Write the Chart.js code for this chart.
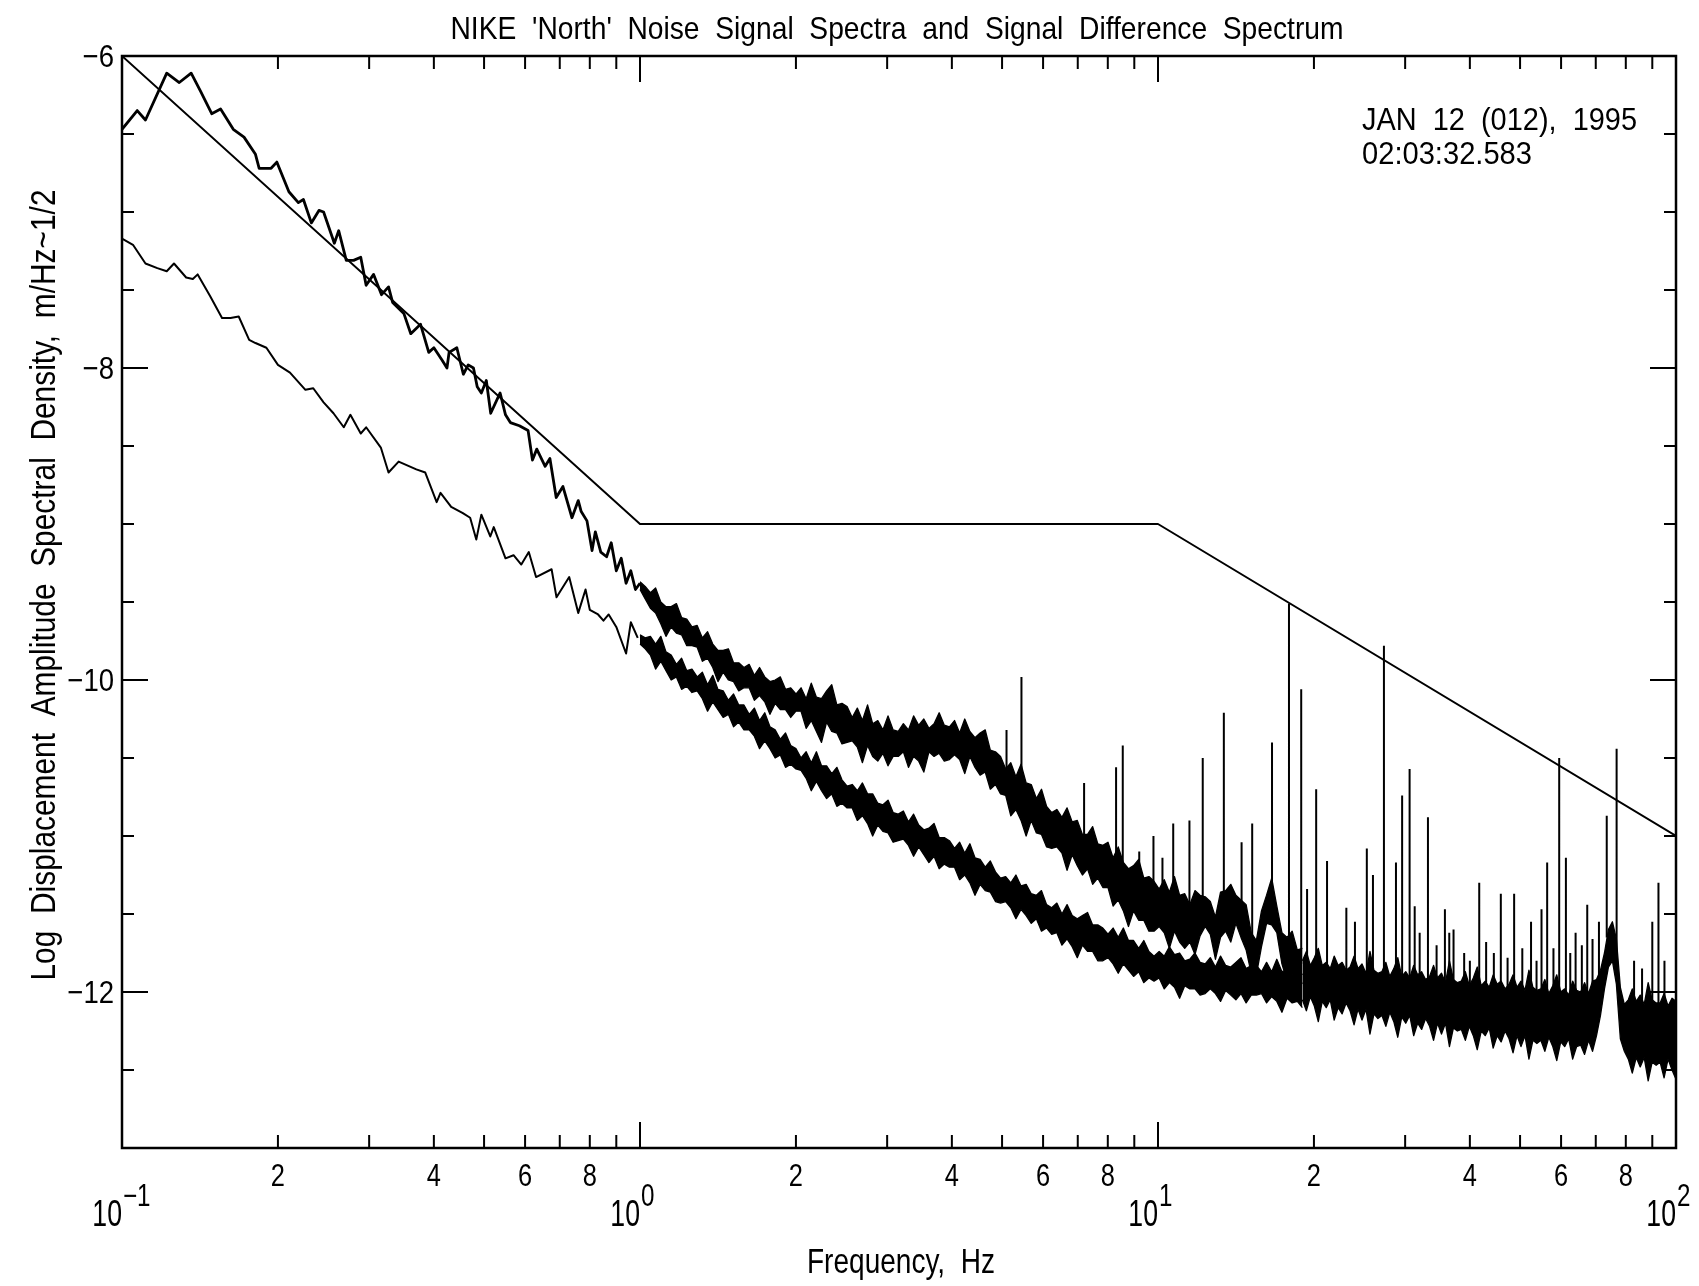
<!DOCTYPE html>
<html>
<head>
<meta charset="utf-8">
<title>NIKE 'North' Noise Signal Spectra</title>
<script src="https://cdn.jsdelivr.net/npm/chart.js@4.4.1/dist/chart.umd.min.js"></script>
<style>
  html, body { margin: 0; padding: 0; background: #fff; }
</style>
</head>
<body>
<canvas id="nike_north" width="1699" height="1286"></canvas>
<script>
var FONT = "'Liberation Sans', Arial, sans-serif";

var titleText = "NIKE  'North'  Noise  Signal  Spectra  and  Signal  Difference  Spectrum";
var xTitle = 'Frequency,  Hz';
var yTitle = 'Log  Displacement  Amplitude  Spectral  Density,  m/Hz~1/2';
var stampLines = ['JAN  12  (012),  1995', '02:03:32.583'];

// axis ticks
var xTicks = [0.1, 0.2, 0.3, 0.4, 0.5, 0.6, 0.7, 0.8, 0.9,
              1, 2, 3, 4, 5, 6, 7, 8, 9,
              10, 20, 30, 40, 50, 60, 70, 80, 90, 100];
var xTickText = ['', '2', '', '4', '', '6', '', '8', '',
                 '', '2', '', '4', '', '6', '', '8', '',
                 '', '2', '', '4', '', '6', '', '8', '', ''];
var decadeHz = [0.1, 1, 10, 100];
var decadeExp = ['\u22121', '0', '1', '2'];
var yMin = -13, yMax = -6;

// model (requirement) line
var modelHz = [0.1, 1, 10, 100];
var modelVal = [-6, -9, -9, -11];

// signal spectra, 0.1 - 1 Hz, read point by point
var upperHz = [0.100,0.107,0.111,0.122,0.129,0.136,0.142,0.149,0.155,0.164,
  0.172,0.181,0.184,0.194,0.199,0.210,0.219,0.224,0.232,0.240,
  0.245,0.257,0.262,0.271,0.280,0.289,0.296,0.306,0.317,0.327,
  0.333,0.350,0.361,0.377,0.391,0.400,0.415,0.424,0.428,0.443,
  0.456,0.466,0.477,0.485,0.494,0.505,0.515,0.537,0.550,0.562,
  0.585,0.608,0.620,0.632,0.656,0.670,0.689,0.710,0.739,0.760,
  0.770,0.790,0.808,0.820,0.840,0.862,0.880,0.900,0.920,0.940,
  0.960,0.980,1.00];
var upperVal = [-6.47,-6.35,-6.41,-6.11,-6.17,-6.11,-6.23,-6.37,-6.34,-6.47,
  -6.52,-6.63,-6.72,-6.72,-6.68,-6.87,-6.94,-6.92,-7.07,-6.99,
  -7.00,-7.20,-7.12,-7.31,-7.31,-7.29,-7.47,-7.40,-7.53,-7.48,
  -7.58,-7.65,-7.78,-7.72,-7.90,-7.87,-7.95,-8.00,-7.90,-7.87,
  -8.04,-7.98,-8.00,-8.12,-8.16,-8.08,-8.29,-8.16,-8.30,-8.35,
  -8.37,-8.40,-8.59,-8.52,-8.63,-8.58,-8.83,-8.76,-8.96,-8.85,
  -8.92,-8.98,-9.17,-9.05,-9.18,-9.21,-9.12,-9.30,-9.22,-9.38,
  -9.30,-9.42,-9.38];

// difference spectrum, 0.1 - 1 Hz
var lowerHz = [0.100,0.105,0.111,0.117,0.122,0.126,0.133,0.137,0.140,0.148,
  0.156,0.162,0.168,0.176,0.181,0.190,0.200,0.211,0.226,0.234,
  0.245,0.256,0.268,0.276,0.289,0.296,0.316,0.327,0.342,0.370,
  0.385,0.405,0.412,0.432,0.455,0.470,0.483,0.494,0.514,0.522,
  0.550,0.570,0.590,0.610,0.630,0.675,0.690,0.730,0.760,0.785,
  0.800,0.830,0.850,0.870,0.900,0.940,0.960,0.990];
var lowerVal = [-7.17,-7.21,-7.33,-7.36,-7.38,-7.33,-7.42,-7.43,-7.40,-7.54,
  -7.68,-7.68,-7.67,-7.82,-7.84,-7.87,-7.98,-8.03,-8.14,-8.13,
  -8.22,-8.29,-8.38,-8.30,-8.42,-8.38,-8.51,-8.67,-8.60,-8.65,
  -8.67,-8.86,-8.80,-8.89,-8.93,-8.96,-9.10,-8.94,-9.08,-9.02,
  -9.22,-9.20,-9.26,-9.18,-9.34,-9.29,-9.47,-9.34,-9.57,-9.42,
  -9.55,-9.58,-9.62,-9.58,-9.66,-9.83,-9.63,-9.73];

// 1 - 2 Hz: upper and lower edges of the traces as they thicken
var transRange = [1, 2];
var transUpperTop = [-9.37,-9.40,-9.44,-9.41,-9.50,-9.53,-9.53,-9.51,-9.60,-9.61,
  -9.66,-9.65,-9.73,-9.69,-9.77,-9.81,-9.81,-9.80,-9.89,-9.89,
  -9.92,-9.90,-9.97,-9.92,-9.98,-10.01,-10.00,-9.98,-10.06,-10.05,
  -10.09];
var transUpperBottom = [-9.42,-9.48,-9.54,-9.57,-9.64,-9.72,-9.66,-9.70,-9.71,-9.78,
  -9.78,-9.79,-9.88,-9.86,-9.92,-10.01,-9.95,-10.00,-10.01,-10.07,
  -10.05,-10.05,-10.13,-10.10,-10.14,-10.22,-10.15,-10.19,-10.19,-10.24,
  -10.20];
var transLowerTop = [-9.71,-9.73,-9.72,-9.77,-9.72,-9.82,-9.84,-9.90,-9.86,-9.94,
  -9.93,-9.98,-9.95,-10.03,-9.97,-10.06,-10.07,-10.13,-10.09,-10.16,
  -10.16,-10.22,-10.18,-10.26,-10.21,-10.30,-10.32,-10.38,-10.34,-10.42,
  -10.44];
var transLowerBottom = [-9.77,-9.80,-9.84,-9.93,-9.88,-9.94,-10.00,-9.98,-10.06,-10.04,
  -10.08,-10.07,-10.12,-10.20,-10.14,-10.19,-10.24,-10.22,-10.30,-10.27,
  -10.32,-10.32,-10.36,-10.44,-10.39,-10.44,-10.50,-10.48,-10.56,-10.54,
  -10.57];

// 2 - 19 Hz: upper and lower edges of each noisy trace, read at evenly log-spaced frequencies
var traceRange = [2, 19];
var upperTop = [-10.09,-10.05,-10.12,-10.02,-10.11,-10.12,-10.07,-10.03,-10.16,-10.15,
  -10.17,-10.24,-10.18,-10.26,-10.16,-10.28,-10.26,-10.32,-10.23,-10.32,
  -10.33,-10.28,-10.32,-10.23,-10.29,-10.25,-10.31,-10.28,-10.21,-10.29,
  -10.30,-10.26,-10.34,-10.25,-10.33,-10.37,-10.34,-10.32,-10.45,-10.46,
  -10.49,-10.57,-10.53,-10.62,-10.54,-10.66,-10.67,-10.76,-10.70,-10.81,
  -10.85,-10.83,-10.88,-10.82,-10.91,-10.90,-10.99,-10.99,-10.94,-11.05,
  -11.06,-11.04,-11.14,-11.07,-11.17,-11.21,-11.19,-11.15,-11.27,-11.26,
  -11.29,-11.34,-11.28,-11.36,-11.26,-11.38,-11.37,-11.44,-11.35,-11.38,
  -11.39,-11.42,-11.52,-11.36,-11.35,-11.31,-11.38,-11.41,-11.44,-11.62,
  -11.67,-11.48,-11.38,-11.27,-11.45,-11.62,-11.65,-11.61,-11.73,-11.72];
var upperBottom = [-10.20,-10.20,-10.31,-10.26,-10.33,-10.40,-10.27,-10.33,-10.34,-10.41,
  -10.40,-10.39,-10.43,-10.53,-10.42,-10.49,-10.52,-10.47,-10.55,-10.49,
  -10.49,-10.46,-10.56,-10.49,-10.52,-10.59,-10.46,-10.49,-10.47,-10.52,
  -10.51,-10.48,-10.51,-10.60,-10.49,-10.56,-10.61,-10.59,-10.70,-10.67,
  -10.73,-10.74,-10.87,-10.83,-10.90,-11.00,-10.90,-10.98,-10.99,-11.07,
  -11.08,-11.07,-11.11,-11.22,-11.12,-11.19,-11.25,-11.21,-11.31,-11.27,
  -11.33,-11.33,-11.45,-11.41,-11.48,-11.58,-11.48,-11.54,-11.54,-11.61,
  -11.61,-11.58,-11.62,-11.72,-11.61,-11.68,-11.72,-11.68,-11.76,-11.64,
  -11.58,-11.63,-11.79,-11.65,-11.61,-11.68,-11.56,-11.65,-11.73,-11.88,
  -11.89,-11.71,-11.56,-11.57,-11.62,-11.82,-11.93,-11.89,-11.99,-11.94];
var lowerTop = [-10.44,-10.50,-10.46,-10.53,-10.46,-10.55,-10.55,-10.60,-10.56,-10.64,
  -10.68,-10.67,-10.71,-10.66,-10.73,-10.73,-10.79,-10.80,-10.77,-10.85,
  -10.86,-10.84,-10.91,-10.86,-10.93,-10.96,-10.95,-10.92,-11.01,-11.01,
  -11.03,-11.08,-11.04,-11.11,-11.05,-11.14,-11.15,-11.20,-11.16,-11.23,
  -11.27,-11.26,-11.30,-11.25,-11.32,-11.31,-11.37,-11.38,-11.35,-11.44,
  -11.46,-11.43,-11.50,-11.44,-11.51,-11.53,-11.51,-11.49,-11.57,-11.57,
  -11.59,-11.63,-11.59,-11.65,-11.59,-11.67,-11.67,-11.72,-11.67,-11.74,
  -11.77,-11.74,-11.77,-11.71,-11.76,-11.75,-11.80,-11.79,-11.75,-11.81,
  -11.82,-11.78,-11.84,-11.77,-11.83,-11.84,-11.81,-11.78,-11.85,-11.83,
  -11.83,-11.87,-11.81,-11.87,-11.79,-11.87,-11.86,-11.90,-11.84,-11.89];
var lowerBottom = [-10.57,-10.58,-10.63,-10.71,-10.65,-10.71,-10.76,-10.73,-10.81,-10.79,
  -10.82,-10.82,-10.90,-10.87,-10.92,-11.00,-10.93,-10.97,-10.98,-11.04,
  -11.03,-11.02,-11.06,-11.13,-11.07,-11.12,-11.17,-11.13,-11.21,-11.18,
  -11.20,-11.20,-11.28,-11.25,-11.30,-11.38,-11.31,-11.35,-11.36,-11.42,
  -11.43,-11.42,-11.46,-11.53,-11.47,-11.51,-11.56,-11.53,-11.61,-11.59,
  -11.63,-11.62,-11.70,-11.66,-11.71,-11.78,-11.70,-11.74,-11.74,-11.80,
  -11.80,-11.78,-11.82,-11.88,-11.82,-11.86,-11.90,-11.87,-11.94,-11.91,
  -11.93,-11.91,-11.98,-11.94,-11.97,-12.04,-11.96,-11.98,-11.98,-12.02,
  -12.01,-11.98,-12.01,-12.06,-11.99,-12.02,-12.05,-12.01,-12.07,-12.02,
  -12.02,-12.01,-12.07,-12.03,-12.06,-12.13,-12.04,-12.07,-12.06,-12.10];

// 19 - 100 Hz: both traces merge into one band; its upper and lower edges
var floorRange = [19, 100];
var floorTop = [-11.80,-11.74,-11.83,-11.78,-11.72,-11.83,-11.81,-11.85,-11.77,-11.83,
  -11.81,-11.86,-11.84,-11.77,-11.85,-11.82,-11.88,-11.74,-11.86,-11.88,
  -11.87,-11.81,-11.90,-11.85,-11.78,-11.90,-11.87,-11.91,-11.83,-11.89,
  -11.87,-11.92,-11.90,-11.83,-11.91,-11.88,-11.94,-11.80,-11.92,-11.94,
  -11.93,-11.87,-11.96,-11.91,-11.84,-11.96,-11.93,-11.97,-11.89,-11.95,
  -11.93,-11.98,-11.95,-11.89,-11.97,-11.93,-11.99,-11.86,-11.97,-11.99,
  -11.98,-11.92,-12.01,-11.96,-11.89,-12.00,-11.98,-12.02,-11.93,-11.99,
  -12.00,-11.94,-12.01,-11.93,-11.92,-11.86,-11.75,-11.60,-11.55,-11.66,
  -11.97,-12.08,-12.05,-11.98,-12.06,-12.02,-12.08,-11.94,-12.05,-12.07,
  -12.07,-12.01,-12.09,-12.04,-12.06];
var floorBottom = [-12.05,-12.12,-12.03,-12.09,-12.19,-12.06,-12.10,-12.05,-12.18,-12.10,
  -12.14,-12.07,-12.12,-12.21,-12.11,-12.18,-12.11,-12.27,-12.14,-12.17,
  -12.15,-12.22,-12.13,-12.19,-12.29,-12.16,-12.20,-12.15,-12.28,-12.20,
  -12.24,-12.17,-12.22,-12.31,-12.20,-12.27,-12.20,-12.35,-12.23,-12.25,
  -12.24,-12.31,-12.22,-12.28,-12.37,-12.25,-12.28,-12.23,-12.36,-12.28,
  -12.32,-12.25,-12.30,-12.39,-12.28,-12.35,-12.28,-12.43,-12.31,-12.33,
  -12.31,-12.38,-12.29,-12.35,-12.44,-12.32,-12.35,-12.30,-12.43,-12.35,
  -12.34,-12.40,-12.31,-12.38,-12.28,-12.15,-11.98,-11.84,-11.80,-11.95,
  -12.30,-12.38,-12.43,-12.52,-12.42,-12.48,-12.42,-12.57,-12.45,-12.47,
  -12.45,-12.55,-12.43,-12.50,-12.56];

// narrow spectral lines
var spikeHz = [5.10, 5.45, 6.00, 7.20, 8.30, 8.55, 9.20, 9.80, 10.2, 10.7,
  11.5, 12.2, 13.4, 14.5, 15.2, 16.6, 17.9, 18.9, 19.4, 20.2,
  21.2, 23.1, 24.0, 25.3, 26.0, 27.3, 28.8, 29.6, 30.6, 31.3,
  32.0, 33.2, 34.5, 35.8, 36.5, 37.2, 39.0, 40.0, 41.7, 43.0,
  44.5, 45.9, 47.3, 48.7, 50.5, 52.5, 53.8, 55.0, 56.4, 58.0,
  59.5, 61.3, 62.5, 64.0, 65.8, 67.4, 69.0, 71.0, 73.5, 76.8,
  83.0, 86.0, 90.0, 92.5, 95.0];
var spikeTop = [-10.32, -9.98, -10.78, -10.66, -10.56, -10.42, -11.10, -11.00, -11.14, -10.92,
  -10.90, -10.50, -10.21, -11.04, -10.92, -10.40, -9.51, -10.06, -11.34, -10.70,
  -11.16, -11.46, -11.55, -11.08, -11.25, -9.78, -11.17, -10.74, -10.57, -11.45,
  -11.62, -10.88, -11.70, -11.47, -11.62, -11.60, -11.75, -11.80, -11.30, -11.68,
  -11.75, -11.37, -11.78, -11.37, -11.72, -11.55, -11.80, -11.47, -11.17, -11.72,
  -10.50, -11.14, -11.75, -11.62, -11.70, -11.44, -11.66, -11.55, -10.87, -10.44,
  -11.80, -11.85, -11.55, -11.30, -11.80];
var spikeBase = [-10.66, -10.74, -10.90, -11.06, -11.28, -11.30, -11.40, -11.44, -11.46, -11.50,
  -11.55, -11.50, -11.45, -11.52, -11.75, -11.40, -11.78, -11.82, -11.85, -11.86,
  -11.88, -11.90, -11.88, -11.90, -11.92, -11.92, -11.93, -11.93, -11.94, -11.94,
  -11.95, -11.95, -11.96, -11.97, -11.97, -11.98, -11.99, -11.99, -12.00, -12.00,
  -12.00, -12.01, -12.01, -12.02, -12.02, -12.03, -12.02, -12.03, -12.03, -12.03,
  -12.04, -12.04, -12.04, -12.04, -12.00, -12.00, -12.00, -11.90, -11.65, -11.80,
  -12.10, -12.08, -12.10, -12.10, -12.08];

function logSpaced(range, n, i) {
  return range[0] * Math.pow(range[1] / range[0], i / (n - 1));
}
function toPoints(hz, vals) {
  return vals.map(function (v, i) { return {x: hz[i], y: v}; });
}
function gridPoints(range, vals) {
  return vals.map(function (v, i) { return {x: logSpaced(range, vals.length, i), y: v}; });
}
function edge(transVals, traceVals) {
  return gridPoints(transRange, transVals).concat(gridPoints(traceRange, traceVals));
}

var spikePts = [];
spikeHz.forEach(function (f, i) {
  spikePts.push({x: f, y: spikeBase[i]}, {x: f, y: spikeTop[i]}, {x: f, y: null});
});

// condensed text, like the plotter's stroke font
function plotText(ctx, str, x, y, size, align, sx) {
  ctx.save();
  ctx.font = size + 'px ' + FONT;
  ctx.translate(x, y + size * 0.358);   // y is the middle of the capitals
  ctx.scale(sx, 1);
  ctx.textAlign = align;
  ctx.textBaseline = 'alphabetic';
  ctx.fillText(str, 0, 0);
  ctx.restore();
}
function fitText(ctx, str, x, y, size, align, width) {
  ctx.font = size + 'px ' + FONT;
  plotText(ctx, str, x, y, size, align, width / ctx.measureText(str).width);
}

var axesBox = {
  id: 'axesBox',
  afterDraw: function (chart) {
    var ctx = chart.ctx, a = chart.chartArea, xs = chart.scales.x, ys = chart.scales.y;
    var cx = (a.left + a.right) / 2;
    ctx.save();
    ctx.strokeStyle = '#000';
    ctx.lineWidth = 2.5;
    ctx.strokeRect(a.left, a.top, a.right - a.left, a.bottom - a.top);
    ctx.lineWidth = 2;
    ctx.beginPath();
    xTicks.forEach(function (f) {
      var px = xs.getPixelForValue(f);
      var len = decadeHz.indexOf(f) >= 0 ? 26 : 13;
      ctx.moveTo(px, a.bottom); ctx.lineTo(px, a.bottom - len);
      ctx.moveTo(px, a.top); ctx.lineTo(px, a.top + len);
    });
    ys.ticks.forEach(function (t) {
      var py = ys.getPixelForValue(t.value);
      var len = t.value % 2 === 0 ? 26 : 12;
      ctx.moveTo(a.left, py); ctx.lineTo(a.left + len, py);
      ctx.moveTo(a.right, py); ctx.lineTo(a.right - len, py);
    });
    ctx.stroke();

    ctx.fillStyle = '#000';
    ys.ticks.forEach(function (t) {
      if (t.value % 2 !== 0) return;
      plotText(ctx, String(t.value).replace('-', '\u2212'), a.left - 8, ys.getPixelForValue(t.value), 32, 'right', 0.86);
    });
    xTicks.forEach(function (f, i) {
      if (xTickText[i]) plotText(ctx, xTickText[i], xs.getPixelForValue(f), a.bottom + 27, 31, 'center', 0.82);
    });
    decadeHz.forEach(function (f, i) {
      var px = xs.getPixelForValue(f);
      plotText(ctx, '10', px, a.bottom + 65, 36, 'right', 0.74);
      plotText(ctx, decadeExp[i], px + 1, a.bottom + 47, 31, 'left', 0.78);
    });

    fitText(ctx, titleText, cx - 2, 28, 32, 'center', 893);
    fitText(ctx, xTitle, cx + 2, 1260, 35, 'center', 188);
    fitText(ctx, stampLines[0], 1362, 119, 32, 'left', 275);
    fitText(ctx, stampLines[1], 1362, 153, 32, 'left', 170);

    ctx.save();
    ctx.translate(42, 585);
    ctx.rotate(-Math.PI / 2);
    fitText(ctx, yTitle, 0, 0, 35, 'center', 791);
    ctx.restore();
    ctx.restore();
  }
};

var lineStyle = {pointRadius: 0, tension: 0, fill: false, borderColor: '#000', backgroundColor: '#000', borderJoinStyle: 'round'};
function series(extra) { return Object.assign({}, lineStyle, extra); }

new Chart(document.getElementById('nike_north').getContext('2d'), {
  type: 'line',
  data: {
    datasets: [
      series({label: 'model', data: toPoints(modelHz, modelVal), borderWidth: 2}),
      series({label: 'signals', data: toPoints(upperHz, upperVal), borderWidth: 2.8}),
      series({label: 'difference', data: toPoints(lowerHz, lowerVal), borderWidth: 2}),
      series({label: 'signals top', data: edge(transUpperTop, upperTop), borderWidth: 1.3, fill: '+1'}),
      series({label: 'signals bottom', data: edge(transUpperBottom, upperBottom), borderWidth: 1.3}),
      series({label: 'difference top', data: edge(transLowerTop, lowerTop), borderWidth: 1.3, fill: '+1'}),
      series({label: 'difference bottom', data: edge(transLowerBottom, lowerBottom), borderWidth: 1.3}),
      series({label: 'floor top', data: gridPoints(floorRange, floorTop), borderWidth: 1.3, fill: '+1'}),
      series({label: 'floor bottom', data: gridPoints(floorRange, floorBottom), borderWidth: 1.3}),
      series({label: 'lines', data: spikePts, borderWidth: 2, spanGaps: false})
    ]
  },
  options: {
    responsive: false,
    animation: false,
    events: [],
    layout: {padding: {top: 56, right: 23, left: 0, bottom: 0}},
    plugins: {legend: {display: false}, tooltip: {enabled: false}, title: {display: false}},
    scales: {
      x: {
        type: 'logarithmic',
        min: 0.1,
        max: 100,
        grid: {display: false, drawTicks: false},
        border: {display: false},
        afterBuildTicks: function (s) { s.ticks = xTicks.map(function (v) { return {value: v}; }); },
        afterFit: function (s) { s.height = 138; },
        ticks: {display: false, autoSkip: false}
      },
      y: {
        min: yMin,
        max: yMax,
        grid: {display: false, drawTicks: false},
        border: {display: false},
        afterFit: function (s) { s.width = 122; },
        ticks: {display: false, stepSize: 0.5}
      }
    }
  },
  plugins: [axesBox]
});
</script>
</body>
</html>
